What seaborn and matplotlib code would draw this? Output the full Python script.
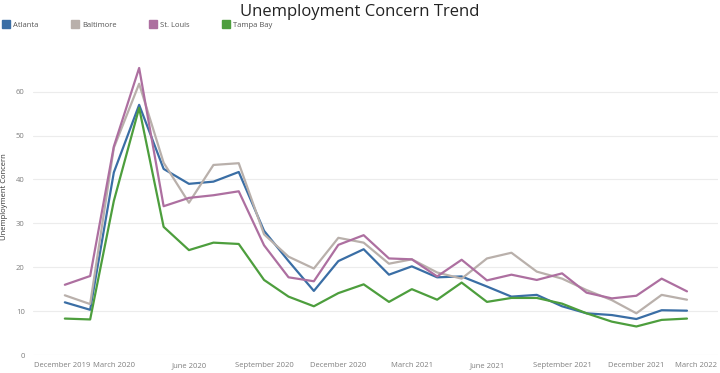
import pandas as pd
import matplotlib.pyplot as plt
import matplotlib.transforms as mtransforms
from matplotlib.lines import Line2D
import seaborn as sns

sns.set_style("white")
plt.rcParams['font.family'] = ['Open Sans', 'DejaVu Sans']

# --- data (monthly, Jan 2020 - Feb 2022) ---
months = pd.date_range("2020-01-01", periods=26, freq="MS")

atlanta = [12.0, 10.3, 41.6, 57.0, 42.4, 39.0, 39.5, 41.7, 28.3, 21.4, 14.6, 21.4, 24.1,
           18.3, 20.2, 17.7, 17.9, 15.6, 13.3, 13.7, 11.1, 9.5, 9.1, 8.2, 10.2, 10.1]
baltimore = [13.6, 11.6, 47.2, 61.8, 43.8, 34.7, 43.3, 43.7, 27.5, 22.4, 19.7, 26.7, 25.6,
             20.8, 21.8, 18.8, 17.4, 22.0, 23.3, 19.0, 17.4, 14.8, 12.5, 9.5, 13.7, 12.6]
st_louis = [16.0, 18.0, 47.5, 65.4, 33.9, 35.8, 36.4, 37.3, 25.0, 17.7, 16.8, 25.1, 27.3,
            22.0, 21.8, 17.9, 21.7, 17.0, 18.3, 17.1, 18.6, 14.2, 12.9, 13.5, 17.4, 14.5]
tampa_bay = [8.3, 8.1, 35.1, 56.3, 29.2, 23.9, 25.6, 25.3, 17.1, 13.3, 11.1, 14.1, 16.1,
             12.1, 15.0, 12.6, 16.5, 12.1, 13.0, 13.0, 11.7, 9.5, 7.6, 6.5, 8.0, 8.3]

cities = ["Atlanta", "Baltimore", "St. Louis", "Tampa Bay"]
colors = {"Atlanta": "#3a6ea5", "Baltimore": "#b9b0ab",
          "St. Louis": "#ad6fa0", "Tampa Bay": "#4d9e3d"}

df = pd.concat([
    pd.DataFrame({"month": months, "value": vals, "city": name})
    for name, vals in zip(cities, [atlanta, baltimore, st_louis, tampa_bay])
], ignore_index=True)

# --- plot ---
fig = plt.figure(figsize=(7.2, 3.73), dpi=100)
ax = fig.add_axes([33 / 720, 1 - 355 / 373, 685 / 720, 316 / 373])

sns.lineplot(data=df, x="month", y="value", hue="city", hue_order=cities,
             palette=colors, linewidth=1.6, ax=ax, legend=False)

ax.set_ylim(0, 72)
ax.set_yticks(range(0, 70, 10))
ax.set_xlim(pd.Timestamp("2019-11-23"), pd.Timestamp("2022-03-11"))
ticks = pd.date_range("2019-12-01", "2022-03-01", freq="3MS")
ax.set_xticks(ticks)
ax.set_xticklabels([t.strftime("%B %Y") for t in ticks])

ax.grid(axis="y", color="#ececec", linewidth=0.8)
ax.grid(axis="x", visible=False)
for s in ax.spines.values():
    s.set_visible(False)
ax.tick_params(axis="both", length=0, labelsize=5.5, colors="#7f7f7f")
ax.tick_params(axis="y", pad=6)
ax.tick_params(axis="x", pad=5)

# keep the end labels inside the figure like the original
labels = ax.get_xticklabels()
labels[0].set_ha("left")
labels[0].set_transform(labels[0].get_transform() +
                        mtransforms.ScaledTranslation(-6 / 100, 0, fig.dpi_scale_trans))
labels[-1].set_ha("right")
labels[-1].set_transform(labels[-1].get_transform() +
                         mtransforms.ScaledTranslation(7 / 100, 0, fig.dpi_scale_trans))

ax.set_xlabel("")
ax.set_ylabel("Unemployment Concern", fontsize=5.5, color="#333333")
ax.yaxis.set_label_coords(-25 / 685, 0.5)

fig.text(0.5, 1 - 12 / 373, "Unemployment Concern Trend", ha="center", va="center",
         fontsize=12, color="#222222")

handles = [Line2D([], [], marker="s", linestyle="none", markersize=6,
                  markerfacecolor=colors[c], markeredgecolor=colors[c]) for c in cities]
fig.legend(handles, cities, loc="center left", bbox_to_anchor=(-0.006, 1 - 25 / 373),
           ncol=4, frameon=False, fontsize=5.5, labelcolor="#555555",
           handlelength=0.8, handletextpad=0.6, columnspacing=4.3)

fig.savefig("out.png", dpi=100)
